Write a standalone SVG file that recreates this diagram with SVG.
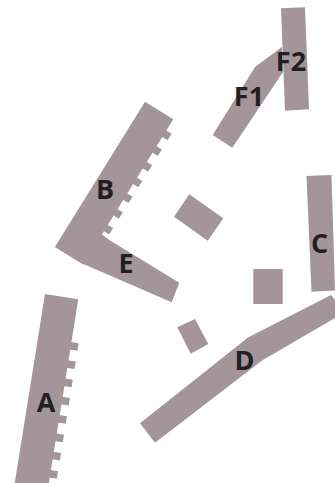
<svg xmlns="http://www.w3.org/2000/svg" width="335" height="483" viewBox="0 0 335 483">
<style>
.b{fill:#a4959b;stroke:none}
.t{font-family:"Open Sans","Liberation Sans",sans-serif;font-weight:700;font-size:27px;fill:#231f20;text-anchor:middle}
</style>
<defs>
<rect id="tA" class="b" x="33" y="-3.8" width="8" height="7.6"/>
<rect id="tB" class="b" x="32.5" y="-3.8" width="7" height="7.6"/>
</defs>
<rect width="335" height="483" fill="#ffffff"/>
<g id="connectors"></g>
<g id="A">
<g transform="translate(45,294) rotate(9.1)">
<rect class="b" x="0" y="0" width="33.7" height="195"/>
<use href="#tA" y="47"/><use href="#tA" y="65.5"/><use href="#tA" y="84"/><use href="#tA" y="102.6"/>
<use href="#tA" y="121"/><use href="#tA" y="139.7"/><use href="#tA" y="158.2"/><use href="#tA" y="176.8"/>
</g>
<text class="t" x="46" y="412">A</text>
</g>
<g id="B">
<g transform="translate(145,101.7) rotate(31.8)">
<rect class="b" x="0" y="0" width="33.3" height="171"/>
<use href="#tB" y="17"/><use href="#tB" y="35.5"/><use href="#tB" y="54"/><use href="#tB" y="72.5"/>
<use href="#tB" y="91"/><use href="#tB" y="109.5"/><use href="#tB" y="128"/>
</g>
<text class="t" x="105" y="199">B</text>
</g>
<g id="E">
<polygon class="b" points="55,246.7 83.3,264 171.7,302.2 179.3,282.7 109.3,240 100,233 65,235"/>
<text class="t" x="126" y="273">E</text>
</g>
<g id="F1">
<polygon class="b" points="212.7,135 232.3,147.7 283,72 282,47 255,67"/>
<text class="t" x="249" y="106">F1</text>
</g>
<g id="F2">
<polygon class="b" points="281,8.3 305,7.3 309,109.3 285,110.7"/>
<text class="t" x="291" y="70.5">F2</text>
</g>
<g id="C">
<polygon class="b" points="306.5,176 331.5,175 335,290.5 311.5,291.7"/>
<text class="t" x="319.5" y="253">C</text>
</g>
<g id="D">
<polygon class="b" points="140,423.3 155,442.7 262,360.5 335,318 335,300 331,295 248,337.5"/>
<text class="t" x="244.5" y="370">D</text>
</g>
<g id="S1"><polygon class="b" points="189.3,194.3 223.3,218.3 207.7,240.7 174,216.7"/></g>
<g id="S2"><rect class="b" x="253.3" y="269" width="29.4" height="35"/></g>
<g id="S3"><polygon class="b" points="177.3,327.3 195,319 208.3,344 190.7,353.7"/></g>
</svg>
